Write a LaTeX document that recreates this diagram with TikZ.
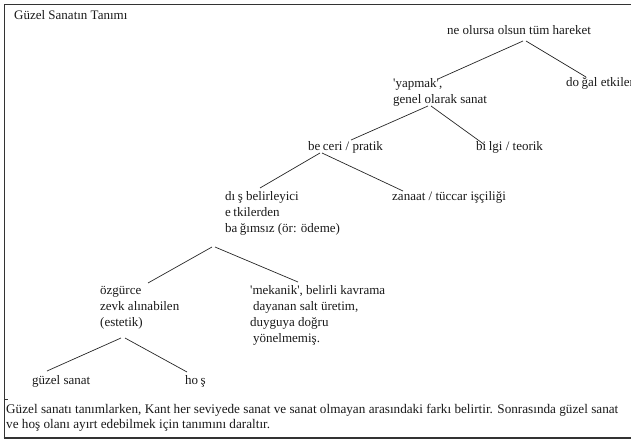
\documentclass[tikz,border=0pt]{standalone}
\usepackage{fontspec}
\newfontfamily\ser{Liberation Serif}
\tikzset{
  x=1pt, y=-1pt,
  lbl/.style={font=\ser\fontsize{13}{16}\selectfont, inner sep=0pt, anchor=base west, align=left, text=black!90},
  captxt/.style={font=\ser\fontsize{13.2}{14.5}\selectfont, inner sep=0pt, anchor=base west, align=left, text=black!90},
  treeline/.style={line width=0.7pt, black!85},
  frm/.style={line width=1.8pt, black!80}
}
\newcommand{\gp}{\kern2.5pt}
\begin{document}
\begin{tikzpicture}
\useasboundingbox (0,0) rectangle (631,441);
% frame
\draw[frm] (4.5,438) -- (4.5,4.5) -- (631,4.5);
\draw[frm] (3.6,438) -- (631,438);
\draw[line width=0.5pt, black!80] (4.5,399) -- (8,399);
% texts (anchored at the baseline of their last line)
\node[lbl] (title) at (14,20) {Güzel Sanatın Tanımı};
\node[lbl] (root) at (447,35) {ne olursa olsun tüm hareket};
\node[lbl] (yap) at (393,103) {'yapmak',\\genel olarak sanat};
\node[lbl] (dogal) at (566,87) {do\gp ğal etkiler};
\node[lbl] (bec) at (308,150) {be\gp ceri / pratik};
\node[lbl] (bil) at (476,150) {bi\gp lgi / teorik};
\node[lbl] (dis) at (225,232) {dı\gp ş belirleyici\\e\gp tkilerden\\ba\gp ğımsız (ör: ödeme)};
\node[lbl] (zan) at (392,200) {zanaat / tüccar işçiliği};
\node[lbl] (ozg) at (100,326) {özgürce\\zevk alınabilen\\(estetik)};
\node[lbl] (mek) at (250,342) {'mekanik', belirli kavrama\\\hspace*{3pt}dayanan salt üretim,\\duyguya doğru\\\hspace*{3pt}yönelmemiş.};
\node[lbl] (guz) at (32,384) {güzel sanat};
\node[lbl] (hos) at (185,384) {ho\gp ş};
\node[captxt] (caption) at (6,428) {Güzel sanatı tanımlarken, Kant her seviyede sanat ve sanat olmayan arasındaki farkı belirtir. Sonrasında güzel sanat\\ve hoş olanı ayırt edebilmek için tanımını daraltır.};
% tree lines
\draw[treeline] ([shift={(76,6)}]root.base west) -- ([shift={(45,-24)}]yap.base west);
\draw[treeline] ([shift={(79,6)}]root.base west) -- ([shift={(20,-10)}]dogal.base west);
\draw[treeline] ([shift={(35,3)}]yap.base west) -- ([shift={(43,-10)}]bec.base west);
\draw[treeline] ([shift={(38,3)}]yap.base west) -- ([shift={(9,-5)}]bil.base west);
\draw[treeline] ([shift={(12,3)}]bec.base west) -- ([shift={(35,-44)}]dis.base west);
\draw[treeline] ([shift={(14,3)}]bec.base west) -- ([shift={(11,-9)}]zan.base west);
\draw[treeline] ([shift={(-13,15)}]dis.base west) -- ([shift={(48,-43)}]ozg.base west);
\draw[treeline] ([shift={(-10,15)}]dis.base west) -- ([shift={(48,-60)}]mek.base west);
\draw[treeline] ([shift={(21,12)}]ozg.base west) -- ([shift={(15,-13)}]guz.base west);
\draw[treeline] ([shift={(25,12)}]ozg.base west) -- ([shift={(2,-12)}]hos.base west);
\end{tikzpicture}
\end{document}
